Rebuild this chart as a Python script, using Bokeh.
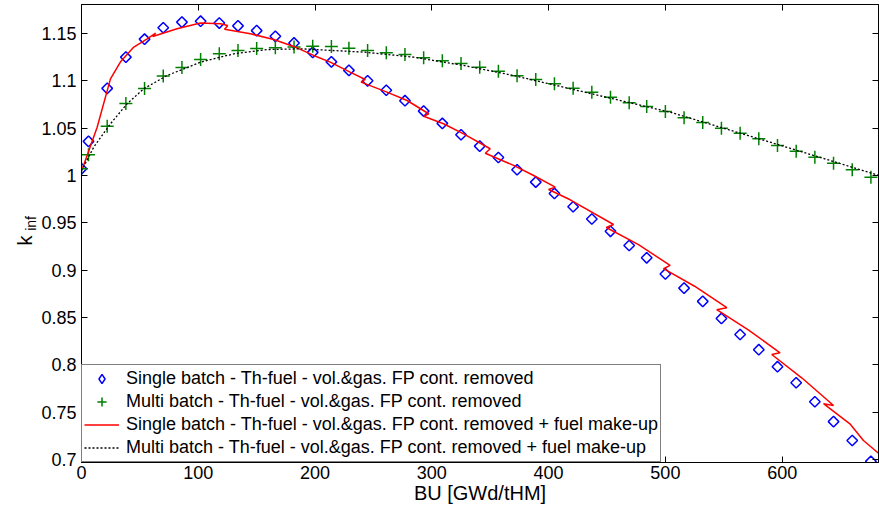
import math
from bokeh.plotting import figure
from bokeh.layouts import row
from bokeh.models import (Range1d, FixedTicker, CustomJSTickFormatter, LinearAxis,
                          Legend, LegendItem, Label, CustomLabelingPolicy)
from bokeh.embed import file_html
from bokeh.resources import INLINE

# Burnup points of the depletion steps [GWd/tHM]
bu_steps = [0, 6, 22, 38, 54, 70, 86, 102, 118, 134, 150, 166, 182, 198, 214,
            229, 245, 261, 277, 293, 309, 325, 341, 357, 373, 389, 405, 421,
            437, 453, 469, 484, 500, 516, 532, 548, 564, 580, 596, 612, 628,
            644, 660, 676]

# Single batch - vol. & gas. FP continuously removed
k_single = [1.007, 1.036, 1.092, 1.125, 1.144, 1.156, 1.162, 1.163, 1.161, 1.158,
            1.153, 1.147, 1.140, 1.130, 1.120, 1.111, 1.100, 1.090, 1.079, 1.068,
            1.055, 1.043, 1.031, 1.019, 1.006, 0.993, 0.981, 0.967, 0.954, 0.941,
            0.926, 0.913, 0.896, 0.881, 0.867, 0.849, 0.832, 0.816, 0.798, 0.781,
            0.761, 0.740, 0.720, 0.698]

# Multi batch - vol. & gas. FP continuously removed
k_multi = [1.007, 1.022, 1.052, 1.076, 1.092, 1.105, 1.114, 1.1225, 1.1285, 1.132,
           1.134, 1.135, 1.1356, 1.1366, 1.1363, 1.1345, 1.132, 1.1296, 1.1278, 1.1243,
           1.1211, 1.1183, 1.1144, 1.1102, 1.1053, 1.1014, 1.0969, 1.0922, 1.088, 1.0827,
           1.0768, 1.0729, 1.0676, 1.061, 1.056, 1.050, 1.0447, 1.0388, 1.0317, 1.0257,
           1.0193, 1.013, 1.006, 0.998]

# Single batch with fuel make-up (each make-up step moves back in burnup)
bu_single_mu = [1, 13.4, 24.8, 33.4, 44.8, 56.2, 63.5, 61, 81.8, 101.8, 119, 125.2,
                122.5, 144.6, 164.6, 181.7, 198.8, 213, 230, 243, 239.4, 261.6,
                278.8, 297.3, 293, 310, 327.2, 350, 345.8, 370, 387.2, 405.7, 400,
                418.5, 455.6, 449.4, 477, 504, 498.4, 525, 552.6, 544, 571, 598.2,
                591.1, 617, 644, 635.4, 658, 669.6, 683]
k_single_mu = [1.008, 1.051, 1.102, 1.120, 1.1356, 1.1444, 1.1503, 1.1468, 1.155, 1.161,
               1.1602, 1.1585, 1.1545, 1.1497, 1.1437, 1.1363, 1.1268, 1.1197, 1.1092,
               1.1014, 1.0986, 1.088, 1.0792, 1.0652, 1.0625, 1.0546, 1.044, 1.0282,
               1.0235, 1.0106, 1.0, 0.9877, 0.9852, 0.9743, 0.9482, 0.9450, 0.927,
               0.905, 0.9015, 0.883, 0.8603, 0.8582, 0.837, 0.8127, 0.8109, 0.786,
               0.757, 0.7589, 0.7377, 0.720, 0.706]

# Multi batch with fuel make-up
bu_multi_mu = [0, 10.5, 24.8, 39, 53.3, 73.3, 101.9, 130.4, 159, 187.5, 241.6,
               284.4, 327.2, 370, 418.5, 504, 589.6, 683]
k_multi_mu = [1.005, 1.03, 1.0546, 1.0757, 1.0916, 1.1056, 1.1197, 1.1285, 1.133,
              1.1338, 1.1303, 1.125, 1.1162, 1.1056, 1.0916, 1.0669, 1.0352, 1.0]

x_ticks = [0, 100, 200, 300, 400, 500, 600]
y_ticks = [0.7, 0.75, 0.8, 0.85, 0.9, 0.95, 1.0, 1.05, 1.1, 1.15]

labels = [
    "Single batch - Th-fuel - vol.&gas. FP cont. removed",
    "Multi batch - Th-fuel - vol.&gas. FP cont. removed",
    "Single batch - Th-fuel - vol.&gas. FP cont. removed + fuel make-up",
    "Multi batch - Th-fuel - vol.&gas. FP cont. removed + fuel make-up",
]

FONT = "Liberation Sans"
X_MIN, X_MAX = 0, 682.5
Y_MIN, Y_MAX = 0.6968, 1.1806
TOP, BOTTOM = 4, 46          # borders above / below the axes box
LABEL_W = 38                 # strip that carries the y label
AXIS_W = 43                  # room for the y tick labels

y_range = Range1d(Y_MIN, Y_MAX)

# Narrow strip holding the y label "k_inf"; shares the y range of the axes
ylab = figure(width=LABEL_W, height=508, output_backend="svg", toolbar_location=None,
              x_range=Range1d(0, LABEL_W), y_range=y_range,
              x_axis_location=None, y_axis_location=None, min_border_left=0,
              min_border_right=0, min_border_top=TOP, min_border_bottom=BOTTOM,
              background_fill_color="white", border_fill_color="white")
ylab.grid.visible = False
ylab.outline_line_color = None
ylab.add_layout(Label(x=24, y=0.9313, text="k", angle=math.pi / 2, text_font=FONT,
                      text_font_size="20px", text_align="center",
                      text_baseline="alphabetic", text_color="black"))
ylab.add_layout(Label(x=30, y=0.9493, text="inf", angle=math.pi / 2, text_font=FONT,
                      text_font_size="14px", text_align="center",
                      text_baseline="alphabetic", text_color="black"))

p = figure(width=879 - LABEL_W, height=508, output_backend="svg", toolbar_location=None,
           x_range=Range1d(X_MIN, X_MAX), y_range=y_range,
           min_border_left=AXIS_W, min_border_right=1, min_border_top=TOP,
           min_border_bottom=BOTTOM, background_fill_color="white",
           border_fill_color="white")
p.grid.visible = False
p.outline_line_color = "black"
p.outline_line_width = 1

fmt = CustomJSTickFormatter(code="return String(parseFloat(tick.toFixed(2)));")

for ax, ticks in ((p.xaxis[0], x_ticks), (p.yaxis[0], y_ticks)):
    ax.ticker = FixedTicker(ticks=ticks)
    ax.formatter = fmt
    ax.major_tick_in = 6
    ax.major_tick_out = 0
    ax.minor_tick_line_color = None
    ax.axis_line_color = "black"
    ax.major_tick_line_color = "black"
    ax.major_label_text_font = FONT
    ax.major_label_text_font_size = "18px"
    ax.major_label_text_color = "black"

p.xaxis[0].major_label_standoff = 3
p.yaxis[0].major_label_standoff = 5
p.xaxis[0].axis_label = "BU [GWd/tHM]"
p.xaxis[0].axis_label_text_font = FONT
p.xaxis[0].axis_label_text_font_size = "20px"
p.xaxis[0].axis_label_text_font_style = "normal"
p.xaxis[0].axis_label_text_color = "black"
p.xaxis[0].axis_label_standoff = 0

# Mirror ticks on the top and right edges of the box, without labels
no_labels = CustomLabelingPolicy(code="for (const i of indices) indices.unset(i)")
for loc, ticks in (("right", y_ticks), ("above", x_ticks)):
    ax = LinearAxis(ticker=FixedTicker(ticks=ticks), major_tick_in=6, major_tick_out=0,
                    minor_tick_line_color=None, major_label_text_font_size="0px",
                    major_label_policy=no_labels, major_label_standoff=0,
                    axis_line_color="black", major_tick_line_color="black")
    p.add_layout(ax, loc)

r1 = p.scatter(bu_steps, k_single, marker="square", angle=math.pi / 4, size=7.5,
               fill_color=None, line_color="#0000ff", line_width=1.5)
r2 = p.scatter(bu_steps, k_multi, marker="cross", size=13,
               line_color="#008000", line_width=1.5)
r3 = p.line(bu_single_mu, k_single_mu, line_color="#ff0000", line_width=1.5)
r4 = p.line(bu_multi_mu, k_multi_mu, line_color="black", line_width=1.3,
            line_dash="2 2")

# legend symbol for the diamond series (the legend draws markers unrotated);
# its single point is NaN so nothing shows inside the axes
r1_key = p.scatter([float("nan")], [float("nan")], marker="diamond", fill_color=None,
                   line_color="#0000ff", line_width=1.5)

legend = Legend(items=[LegendItem(label=lab, renderers=[r]) for lab, r in
                       zip(labels, [r1_key, r2, r3, r4])],
                location="bottom_left", margin=0, padding=2, spacing=0,
                glyph_width=35, glyph_height=23, label_height=23, label_standoff=7,
                label_text_font=FONT, label_text_font_size="18px",
                label_text_color="black", border_line_color="black",
                border_line_width=1, background_fill_color="white",
                background_fill_alpha=1)
p.add_layout(legend, "center")

layout = row(ylab, p, spacing=0)
open("out.html", "w").write(file_html(layout, INLINE))
